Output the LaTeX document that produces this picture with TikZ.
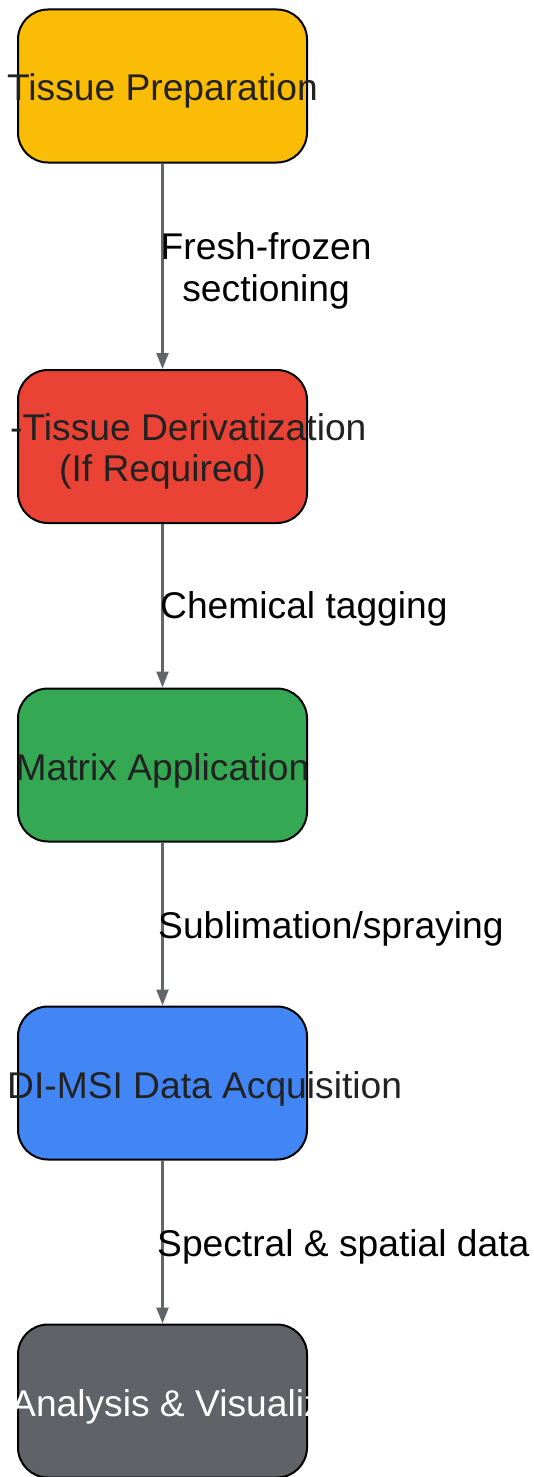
\documentclass[tikz,border=0pt]{standalone}
\usepackage{fontspec}
\setmainfont{Liberation Sans}
\usetikzlibrary{arrows.meta}
\definecolor{cyellow}{HTML}{FBBC05}
\definecolor{cred}{HTML}{EA4335}
\definecolor{cgreen}{HTML}{34A853}
\definecolor{cblue}{HTML}{4285F4}
\definecolor{cgray}{HTML}{5F6368}
\definecolor{ctext}{HTML}{222222}
\definecolor{cline}{HTML}{62666B}
\tikzset{
  stagebox/.style={draw=black, line width=2pt, rounded corners=30pt, minimum width=289pt, minimum height=153pt, inner sep=0pt},
  boxtext/.style={font=\fontsize{37.2}{43}\selectfont, text=ctext, inner sep=0pt},
  edgelabel/.style={font=\fontsize{37.2}{43}\selectfont, text=black, inner sep=0pt},
  flow/.style={draw=cline, line width=2.2pt, -{Triangle[length=16pt,width=12pt]}}
}
\begin{document}
\begin{tikzpicture}[x=1pt,y=-1pt]
\useasboundingbox (0,0) rectangle (534,1477);
\node[stagebox, fill=cyellow] (b1) at (162.5,86) {};
\node[stagebox, fill=cred] (b2) at (162.5,446.5) {};
\node[stagebox, fill=cgreen] (b3) at (162.5,765) {};
\node[stagebox, fill=cblue] (b4) at (162.5,1083) {};
\node[stagebox, fill=cgray] (b5) at (162.5,1401) {};

\draw[flow] (b1.south) -- (b2.north);
\draw[flow] (b2.south) -- (b3.north);
\draw[flow] (b3.south) -- (b4.north);
\draw[flow] (b4.south) -- (b5.north);

\node[boxtext, anchor=base] (t1) at (162.5,101) {Tissue Preparation};
\node[boxtext, anchor=base west] (t2a) at (10,440.5) {-Tissue Derivatization};
\node[boxtext, anchor=base] (t2b) at (162.5,481.5) {(If Required)};
\node[boxtext, anchor=base] (t3) at (162.5,780) {Matrix Application};
\node[boxtext, anchor=base west] (t4) at (7,1098) {DI-MSI Data Acquisition};
\begin{scope}
\clip (0,1320) rectangle (308,1477);
\node[boxtext, text=white, anchor=base west] (t5) at (11,1416.5) {Analysis \& Visualiz};
\end{scope}

\node[edgelabel, anchor=base west] (l1a) at (160.5,259.5) {Fresh-frozen};
\node[edgelabel, anchor=base] (l1b) at (l1a.base |- 0,301.5) {sectioning};
\node[edgelabel, anchor=base west] (l2) at (160,618) {Chemical tagging};
\node[edgelabel, anchor=base west] (l3) at (158,938) {Sublimation/spraying};
\node[edgelabel, anchor=base west] (l4) at (157,1256) {Spectral \& spatial data};
\end{tikzpicture}
\end{document}
